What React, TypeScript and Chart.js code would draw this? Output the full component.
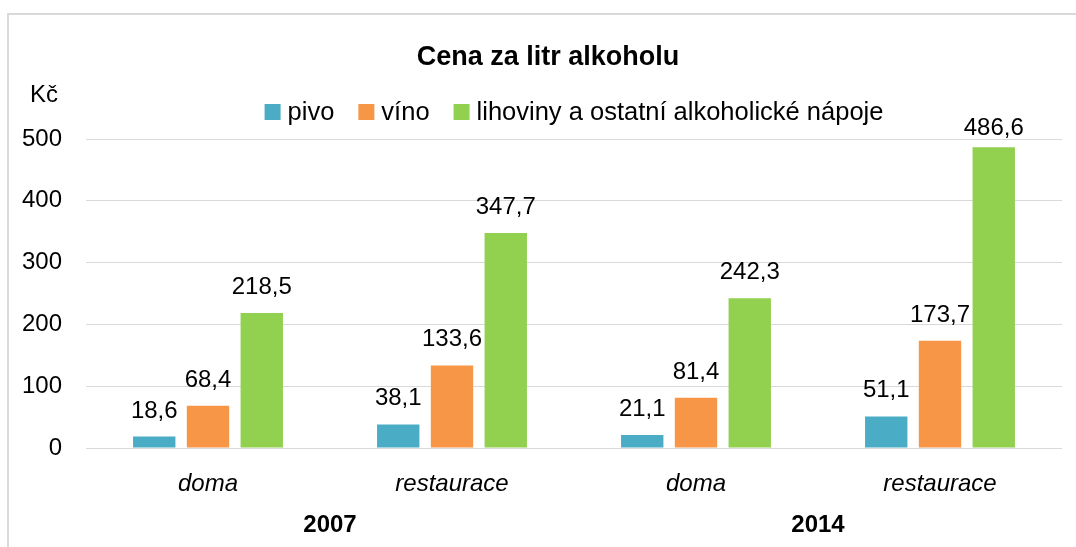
import React, { useEffect, useRef } from "react";
import { Chart, registerables } from "chart.js";

Chart.register(...registerables);

const categories = ["doma", "restaurace", "doma", "restaurace"];
const years = ["2007", "2014"];
const seriesNames = ["pivo", "víno", "lihoviny a ostatní alkoholické nápoje"];
const pivo = [18.6, 38.1, 21.1, 51.1];
const vino = [68.4, 133.6, 81.4, 173.7];
const lihoviny = [218.5, 347.7, 242.3, 486.6];
const colors = ["#4bacc6", "#f79646", "#92d050"];
const yTicksMax = 500;
const yStep = 100;
const titleText = "Cena za litr alkoholu";
const unitText = "Kč";

const FONT = '"Liberation Sans", Arial, sans-serif';

const fmt = (v: number) => v.toFixed(1).replace(".", ",");

const decorPlugin = {
  id: "decor",
  beforeDraw(chart: any) {
    const ctx = chart.ctx;
    ctx.save();
    ctx.fillStyle = "#ffffff";
    ctx.fillRect(0, 0, chart.width, chart.height);
    ctx.fillStyle = "#d9d9d9";
    ctx.fillRect(7, 13, chart.width, 2);
    ctx.fillRect(7, 13, 2, chart.height);
    ctx.restore();
  },
  afterDraw(chart: any) {
    const ctx = chart.ctx;
    const area = chart.chartArea;
    ctx.save();
    ctx.fillStyle = "#000";
    // title
    ctx.font = `bold 27px ${FONT}`;
    ctx.textAlign = "center";
    ctx.textBaseline = "alphabetic";
    ctx.fillText(titleText, 548, 65);
    // unit
    ctx.font = `24px ${FONT}`;
    ctx.textAlign = "left";
    ctx.fillText(unitText, 30, 102);
    // legend
    ctx.font = `25.5px ${FONT}`;
    const box = 16;
    const gapText = 7;
    const gapItem = 24;
    const widths = chart.data.datasets.map((d: any) => ctx.measureText(d.label).width);
    const total =
      widths.reduce((a: number, b: number) => a + b, 0) +
      widths.length * (box + gapText) +
      (widths.length - 1) * gapItem;
    let x = (area.left + area.right) / 2 - total / 2;
    const baseline = 120;
    chart.data.datasets.forEach((d: any, i: number) => {
      ctx.fillStyle = d.backgroundColor;
      ctx.fillRect(x, baseline - box, box, box);
      x += box + gapText;
      ctx.fillStyle = "#000";
      ctx.fillText(d.label, x, baseline);
      x += widths[i] + gapItem;
    });
    ctx.restore();
  },
  afterDatasetsDraw(chart: any) {
    const ctx = chart.ctx;
    const area = chart.chartArea;
    ctx.save();
    ctx.font = `24px ${FONT}`;
    ctx.fillStyle = "#000";
    ctx.textAlign = "center";
    ctx.textBaseline = "alphabetic";
    chart.data.datasets.forEach((d: any, i: number) => {
      const meta = chart.getDatasetMeta(i);
      meta.data.forEach((bar: any, j: number) => {
        const y = Math.max(bar.y - 19, area.top - 4);
        ctx.fillText(fmt(d.data[j]), bar.x, y);
      });
    });
    ctx.restore();
  },
};

export default function App() {
  const ref = useRef<HTMLCanvasElement | null>(null);
  useEffect(() => {
    if (!ref.current) return;
    const chart = new Chart(ref.current, {
      type: "bar",
      data: {
        labels: categories,
        datasets: [pivo, vino, lihoviny].map((data, i) => ({
          label: seriesNames[i],
          data,
          backgroundColor: colors[i],
          categoryPercentage: 0.661,
          barPercentage: 0.788,
        })),
      },
      options: {
        animation: false,
        responsive: true,
        maintainAspectRatio: false,
        layout: { padding: { top: 139, left: 0, right: 14, bottom: 0 } },
        plugins: {
          legend: { display: false },
          title: { display: false },
          tooltip: { enabled: false },
        },
        scales: {
          y: {
            min: 0,
            max: yTicksMax,
            ticks: {
              stepSize: yStep,
              color: "#000",
              padding: 24,
              font: { family: FONT, size: 24 },
            },
            grid: { color: "#d9d9d9", lineWidth: 1, drawTicks: false },
            border: { display: false },
            afterFit(scale: any) {
              scale.width = 86;
            },
          },
          x: {
            weight: 0,
            ticks: {
              color: "#000",
              padding: 22,
              font: { family: FONT, size: 24, style: "italic" },
            },
            grid: { display: false, drawTicks: false },
            border: { display: false },
            afterFit(scale: any) {
              scale.height = 55;
            },
          },
          x2: {
            type: "category",
            position: "bottom",
            weight: 1,
            labels: years,
            offset: true,
            ticks: {
              color: "#000",
              padding: 8,
              font: { family: FONT, size: 24, weight: "bold" },
            },
            grid: { display: false, drawTicks: false },
            border: { display: false },
            afterFit(scale: any) {
              scale.height = 44;
            },
          },
        },
      },
      plugins: [decorPlugin],
    });
    return () => chart.destroy();
  }, []);
  return (
    <div style={{ position: "fixed", left: 0, top: 0, width: 1076, height: 547 }}>
      <canvas ref={ref} />
    </div>
  );
}
